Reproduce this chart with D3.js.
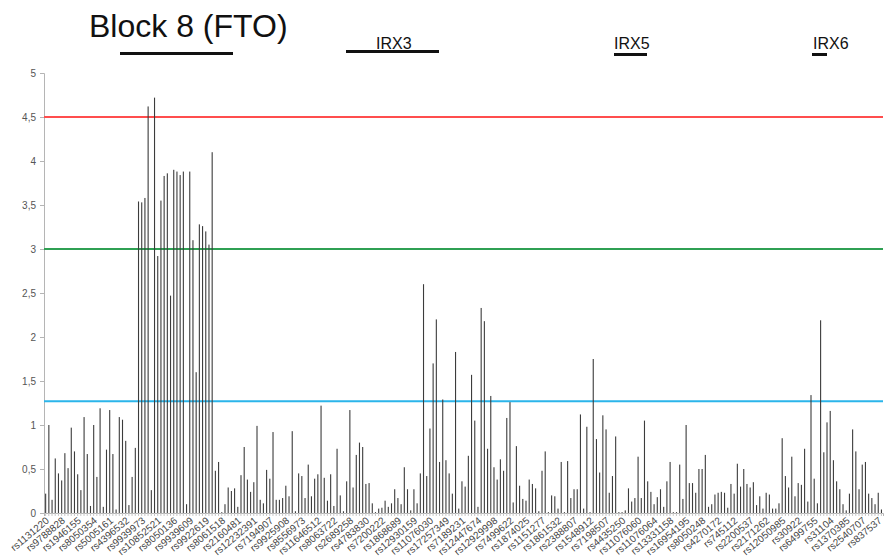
<!DOCTYPE html>
<html>
<head>
<meta charset="utf-8">
<script src="https://cdn.jsdelivr.net/npm/d3@7"></script>
<style>
  html, body { margin: 0; padding: 0; background: #fff; }
  svg { display: block; font-family: "Liberation Sans", Arial, sans-serif; }
</style>
</head>
<body>
<svg id="chart" width="886" height="556"></svg>
<script>
// ---- data ----
const values = [
  0.22, 1.00, 0.15, 0.62, 0.45, 0.37, 0.68, 0.51, 0.97, 0.70,
  0.44, 0.26, 1.09, 0.67, 0.08, 1.00, 0.41, 1.19, 0.07, 0.72,
  1.17, 0.67, 0.04, 1.09, 1.06, 0.82, 0.09, 0.41, 0.74, 3.54,
  3.53, 3.58, 4.62, 0.26, 4.72, 2.92, 3.55, 3.83, 3.86, 2.47,
  3.90, 3.88, 3.84, 3.88, 0.10, 3.88, 3.10, 1.60, 3.28, 3.26,
  3.20, 3.05, 4.10, 0.48, 0.58, 0.01, 0.10, 0.29, 0.25, 0.28,
  0.07, 0.43, 0.75, 0.38, 0.24, 0.35, 0.99, 0.15, 0.11, 0.49,
  0.39, 0.92, 0.15, 0.15, 0.17, 0.31, 0.19, 0.93, 0.02, 0.45,
  0.42, 0.17, 0.55, 0.19, 0.39, 0.44, 1.22, 0.40, 0.14, 0.44,
  0.08, 0.73, 0.20, 0.02, 0.36, 1.17, 0.29, 0.66, 0.80, 0.75,
  0.33, 0.34, 0.11, 0.01, 0.05, 0.06, 0.14, 0.07, 0.11, 0.27,
  0.17, 0.10, 0.52, 0.27, 0.03, 0.27, 0.11, 0.45, 2.60, 0.42,
  0.96, 1.70, 2.20, 0.58, 1.29, 0.60, 0.45, 0.22, 1.83, 0.05,
  0.36, 0.30, 0.65, 1.57, 1.05, 0.07, 2.33, 2.18, 0.73, 1.33,
  0.52, 0.38, 0.61, 0.48, 1.08, 1.26, 0.12, 0.76, 0.31, 0.16,
  0.14, 0.38, 0.33, 0.28, 0.02, 0.48, 0.70, 0.01, 0.20, 0.19,
  0.05, 0.58, 0.01, 0.59, 0.17, 0.27, 0.27, 1.12, 0.05, 0.98,
  0.01, 1.75, 0.84, 0.46, 1.11, 0.95, 0.23, 0.42, 0.87, 0.01,
  0.01, 0.03, 0.28, 0.13, 0.17, 0.64, 0.17, 1.05, 0.36, 0.24,
  0.10, 0.18, 0.27, 0.07, 0.36, 0.58, 0.01, 0.01, 0.55, 0.16,
  1.00, 0.34, 0.34, 0.23, 0.50, 0.50, 0.66, 0.07, 0.10, 0.21,
  0.23, 0.24, 0.23, 0.06, 0.33, 0.22, 0.56, 0.30, 0.50, 0.33,
  0.29, 0.35, 0.09, 0.19, 0.05, 0.23, 0.21, 0.05, 0.05, 0.11,
  0.85, 0.42, 0.29, 0.64, 0.19, 0.34, 0.32, 0.73, 0.13, 1.34,
  0.39, 0.11, 2.19, 0.69, 1.03, 1.16, 0.60, 0.36, 0.27, 0.10,
  0.03, 0.22, 0.95, 0.70, 0.27, 0.55, 0.58, 0.22, 0.17, 0.10,
  0.23, 0.04
];

// labels shown for every 5th SNP
const tickLabels = [
  "rs1131220", "rs9788828", "rs1946155", "rs8050354", "rs5005161",
  "rs4396532", "rs9939973", "rs10852521", "rs8050136", "rs9939609",
  "rs9922619", "rs8061518", "rs2160481", "rs12232391", "rs7194907",
  "rs9925908", "rs8556973", "rs11646512", "rs8063722", "rs2689258",
  "rs4783830", "rs7200222", "rs1868689", "rs12930159", "rs11076030",
  "rs17257349", "rs7189231", "rs12447674", "rs12929998", "rs7499622",
  "rs1874025", "rs1151277", "rs1861532", "rs2388807", "rs1548912",
  "rs7198507", "rs4435250", "rs11076060", "rs11076064", "rs13331158",
  "rs16954195", "rs8050248", "rs4270172", "rs745112", "rs2200537",
  "rs2171262", "rs12050985", "rs30922", "rs6499755", "rs31104",
  "rs1370385", "rs2540707", "rs837537"
];
const labelEvery = 5;

const yTicks = [0, 0.5, 1, 1.5, 2, 2.5, 3, 3.5, 4, 4.5, 5];

const refLines = [
  { value: 4.5, color: "#ff4d4d" },
  { value: 3.0, color: "#2fa053" },
  { value: 1.27, color: "#2bb5ea" }
];

const title = "Block 8 (FTO)";
const genes = ["IRX3", "IRX5", "IRX6"];

// ---- chart ----
const svg = d3.select("#chart");
const margin = { left: 44, right: 3, top: 73, bottom: 43 };
const W = 886, H = 556;

const idx = d3.range(values.length);
const x = d3.scaleBand().domain(idx).range([margin.left, W - margin.right]).padding(0);
const y = d3.scaleLinear().domain([0, 5]).range([H - margin.bottom, margin.top]);

// y axis
const yAxis = d3.axisLeft(y).tickValues(yTicks).tickSize(4).tickPadding(4)
  .tickFormat(d => String(d).replace(".", ","));
const gy = svg.append("g").attr("transform", `translate(${margin.left},0)`).call(yAxis);
gy.select(".domain").attr("stroke", "#b5b5b5");
gy.selectAll(".tick line").attr("stroke", "#b5b5b5");
gy.selectAll(".tick text").attr("fill", "#555").style("font-size", "10px")
  .style("font-family", "'Liberation Sans', Arial, sans-serif");

// reference lines
svg.append("g").selectAll("line").data(refLines).join("line")
  .attr("x1", margin.left).attr("x2", W - margin.right)
  .attr("y1", d => y(d.value)).attr("y2", d => y(d.value))
  .attr("stroke", d => d.color).attr("stroke-width", 2);

// bars
svg.append("g").selectAll("rect").data(values).join("rect")
  .attr("x", (d, i) => x(i) + x.bandwidth() / 2 - 0.5)
  .attr("width", 1.1)
  .attr("y", d => y(d))
  .attr("height", d => y(0) - y(d))
  .attr("fill", "#3c3c3c");

// x axis
const xAxis = d3.axisBottom(x).tickSize(3).tickFormat("");
const gx = svg.append("g").attr("transform", `translate(0,${y(0)})`).call(xAxis);
gx.select(".domain").attr("stroke", "#b5b5b5");
gx.selectAll(".tick line").attr("stroke", "#c8c8c8");

// rotated labels
svg.append("g").selectAll("text").data(tickLabels).join("text")
  .attr("transform", (d, k) => {
    const xi = x(k * labelEvery) + x.bandwidth() / 2 + 2;
    return `translate(${xi},${y(0) + 6}) rotate(-40)`;
  })
  .attr("text-anchor", "end")
  .attr("dy", "0.35em")
  .attr("fill", "#444")
  .style("font-size", "10px")
  .text(d => d);

// title and gene annotations
svg.append("text").attr("x", 89).attr("y", 37)
  .style("font-size", "32px").attr("fill", "#111").text(title);
svg.append("rect").attr("x", 120).attr("y", 52).attr("width", 113).attr("height", 3).attr("fill", "#111");

const geneText = [{ t: genes[0], x: 376 }, { t: genes[1], x: 614 }, { t: genes[2], x: 813 }];
svg.append("g").selectAll("text").data(geneText).join("text")
  .attr("x", d => d.x).attr("y", 48.5)
  .style("font-size", "16px").attr("fill", "#111").text(d => d.t);

const geneBars = [{ x: 346, w: 93, y: 50 }, { x: 614, w: 33, y: 53 }, { x: 812, w: 15, y: 53 }];
svg.append("g").selectAll("rect").data(geneBars).join("rect")
  .attr("x", d => d.x).attr("y", d => d.y).attr("width", d => d.w).attr("height", 3)
  .attr("fill", "#111");
</script>
</body>
</html>
